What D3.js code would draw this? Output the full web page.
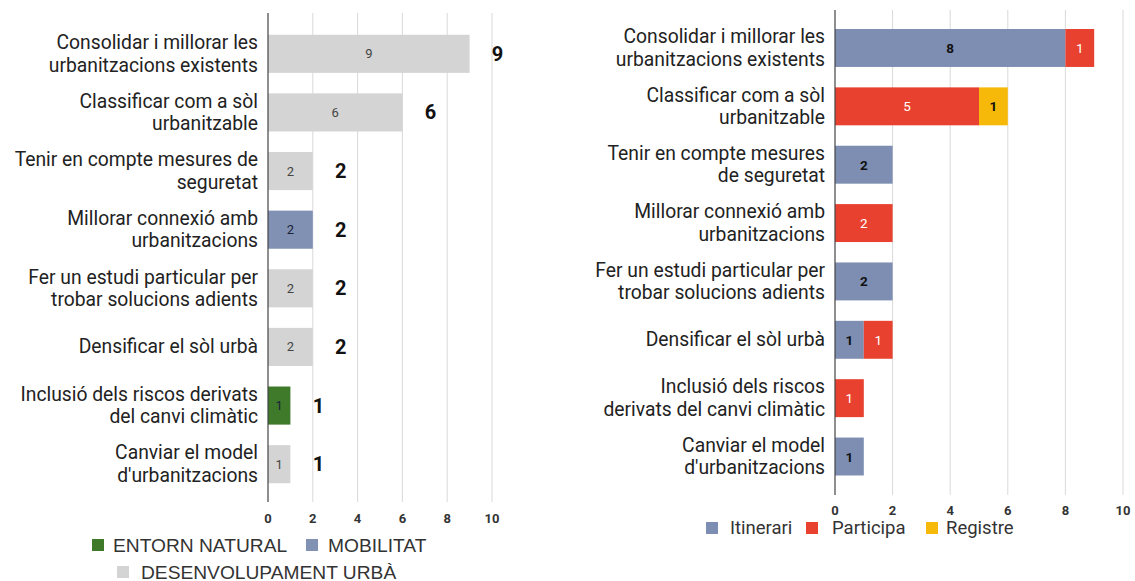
<!DOCTYPE html>
<html><head><meta charset="utf-8">
<script src="https://cdn.jsdelivr.net/npm/d3@7"></script>
<style>body{margin:0;background:#fff}svg{display:block}</style>
</head><body>
<svg id="c" width="1135" height="581"></svg>
<script>
// ---- data ----
const leftCategories = [
  ["Consolidar i millorar les","urbanitzacions existents"],
  ["Classificar com a sòl","urbanitzable"],
  ["Tenir en compte mesures de","seguretat"],
  ["Millorar connexió amb","urbanitzacions"],
  ["Fer un estudi particular per","trobar solucions adients"],
  ["Densificar el sòl urbà"],
  ["Inclusió dels riscos derivats","del canvi climàtic"],
  ["Canviar el model","d'urbanitzacions"]
];
const leftValues = [9,6,2,2,2,2,1,1];
const leftThemes = ["DESENVOLUPAMENT URBÀ","DESENVOLUPAMENT URBÀ","DESENVOLUPAMENT URBÀ","MOBILITAT","DESENVOLUPAMENT URBÀ","DESENVOLUPAMENT URBÀ","ENTORN NATURAL","DESENVOLUPAMENT URBÀ"];
const themeNames = ["ENTORN NATURAL","MOBILITAT","DESENVOLUPAMENT URBÀ"];
const themeColors = ["#3f7a2b","#8091b3","#d4d4d4"];

const rightCategories = [
  ["Consolidar i millorar les","urbanitzacions existents"],
  ["Classificar com a sòl","urbanitzable"],
  ["Tenir en compte mesures","de seguretat"],
  ["Millorar connexió amb","urbanitzacions"],
  ["Fer un estudi particular per","trobar solucions adients"],
  ["Densificar el sòl urbà"],
  ["Inclusió dels riscos","derivats del canvi climàtic"],
  ["Canviar el model","d'urbanitzacions"]
];
const itinerari = [8,0,2,0,2,1,0,1];
const participa = [1,5,0,2,0,1,1,0];
const registre  = [0,1,0,0,0,0,0,0];
const sourceNames = ["Itinerari","Participa","Registre"];
const sourceColors = ["#7d8eb2","#e8412f","#f6b90a"];
const sourceTextColors = ["#111","#fff","#111"];
const xTicks = [0,2,4,6,8,10];

const svg = d3.select("#c");
const labelFont = "Roboto, 'Liberation Sans', sans-serif";

function drawFrame(g, cats, x, y, gridTop, gridBottom, tickY){
  g.selectAll(".grid").data(xTicks.slice(1)).join("line")
    .attr("x1",d=>x(d)).attr("x2",d=>x(d))
    .attr("y1",gridTop).attr("y2",gridBottom)
    .attr("stroke","#d9d9d9").attr("stroke-width",1);
  g.selectAll(".tick").data(xTicks).join("text")
    .attr("x",d=>x(d)).attr("y",tickY)
    .attr("text-anchor","middle").attr("dominant-baseline","central")
    .attr("font-family",labelFont).attr("font-weight","bold")
    .attr("font-size",13).attr("fill","#333").text(d=>d);
  const lab = g.selectAll(".cat").data(cats).join("text")
    .attr("text-anchor","end").attr("font-family",labelFont)
    .attr("font-size",19.3).attr("fill","#222");
  lab.each(function(lines,i){
    const cy = y(i) + y.bandwidth()/2;
    const n = lines.length, lh = 22.5;
    d3.select(this).selectAll("tspan").data(lines).join("tspan")
      .attr("x", x(0)-10)
      .attr("y",(d,j)=> cy + (j-(n-1)/2)*lh)
      .attr("dominant-baseline","central")
      .text(d=>d);
  });
}

// ---- left chart ----
{
  const g = svg.append("g");
  const x = d3.scaleLinear().domain([0,10]).range([268,492]);
  const y = d3.scaleBand().domain(d3.range(leftValues.length)).range([24.5,493.5]).paddingInner(0.35).paddingOuter(0.175);
  drawFrame(g, leftCategories, x, y, 13, 502, 518);
  const color = d3.scaleOrdinal().domain(themeNames).range(themeColors);
  g.selectAll(".bar").data(leftValues).join("rect")
    .attr("x",x(0)).attr("y",(d,i)=>y(i))
    .attr("width",d=>x(d)-x(0)).attr("height",y.bandwidth())
    .attr("fill",(d,i)=>color(leftThemes[i]));
  g.selectAll(".in").data(leftValues).join("text")
    .attr("x",d=>(x(0)+x(d))/2).attr("y",(d,i)=>y(i)+y.bandwidth()/2)
    .attr("text-anchor","middle").attr("dominant-baseline","central")
    .attr("font-family",labelFont).attr("font-size",13)
    .attr("fill",(d,i)=>leftThemes[i]==="DESENVOLUPAMENT URBÀ"?"#444":"#1a2233")
    .text(d=>d);
  g.selectAll(".tot").data(leftValues).join("text")
    .attr("x",d=>x(d)+28).attr("y",(d,i)=>y(i)+y.bandwidth()/2)
    .attr("text-anchor","middle").attr("dominant-baseline","central")
    .attr("font-family",labelFont).attr("font-weight","bold").attr("font-size",20)
    .attr("fill","#111").text(d=>d);
  g.append("line").attr("x1",x(0)).attr("x2",x(0)).attr("y1",13).attr("y2",502)
    .attr("stroke","#444").attr("stroke-width",1.2);
  const legFont = "'Liberation Sans', Arial, sans-serif";
  const items = [
    {name:themeNames[0], sx:92, tx:113, cy:545},
    {name:themeNames[1], sx:306, tx:328, cy:545},
    {name:themeNames[2], sx:117, tx:141, cy:572}
  ];
  const lg = g.selectAll(".lg").data(items).join("g");
  lg.append("rect").attr("x",d=>d.sx).attr("y",d=>d.cy-6).attr("width",12).attr("height",12)
    .attr("fill",d=>color(d.name));
  lg.append("text").attr("x",d=>d.tx).attr("y",d=>d.cy).attr("dominant-baseline","central")
    .attr("font-family",legFont).attr("font-size",19.2).attr("fill","#333").text(d=>d.name);
}

// ---- right chart ----
{
  const g = svg.append("g");
  const x = d3.scaleLinear().domain([0,10]).range([835,1123]);
  const y = d3.scaleBand().domain(d3.range(rightCategories.length)).range([18.8,485.7]).paddingInner(0.35).paddingOuter(0.175);
  drawFrame(g, rightCategories, x, y, 10, 495, 510);
  const rows = rightCategories.map((c,i)=>({Itinerari:itinerari[i],Participa:participa[i],Registre:registre[i]}));
  const stack = d3.stack().keys(sourceNames)(rows);
  stack.forEach((layer,k)=>{
    const segs = layer.map((d,i)=>({x0:d[0],x1:d[1],i,v:d[1]-d[0]})).filter(d=>d.v>0);
    g.selectAll(".s"+k).data(segs).join("rect")
      .attr("x",d=>x(d.x0)).attr("y",d=>y(d.i))
      .attr("width",d=>x(d.x1)-x(d.x0)).attr("height",y.bandwidth())
      .attr("fill",sourceColors[k]);
    g.selectAll(".t"+k).data(segs).join("text")
      .attr("x",d=>(x(d.x0)+x(d.x1))/2).attr("y",d=>y(d.i)+y.bandwidth()/2)
      .attr("text-anchor","middle").attr("dominant-baseline","central")
      .attr("font-family",labelFont).attr("font-size",13.5)
      .attr("font-weight",sourceTextColors[k]==="#fff"?"normal":"bold")
      .attr("fill",sourceTextColors[k]).text(d=>d.v);
  });
  g.append("line").attr("x1",x(0)).attr("x2",x(0)).attr("y1",10).attr("y2",495)
    .attr("stroke","#444").attr("stroke-width",1.2);
  const items = [
    {k:0, sx:706, tx:730},
    {k:1, sx:806, tx:832},
    {k:2, sx:926, tx:946}
  ];
  const lg = g.selectAll(".lg").data(items).join("g");
  lg.append("rect").attr("x",d=>d.sx).attr("y",528-6).attr("width",12).attr("height",12)
    .attr("fill",d=>sourceColors[d.k]);
  lg.append("text").attr("x",d=>d.tx).attr("y",528).attr("dominant-baseline","central")
    .attr("font-family",labelFont).attr("font-size",18.5).attr("fill","#333").text(d=>sourceNames[d.k]);
}
</script>
</body></html>
